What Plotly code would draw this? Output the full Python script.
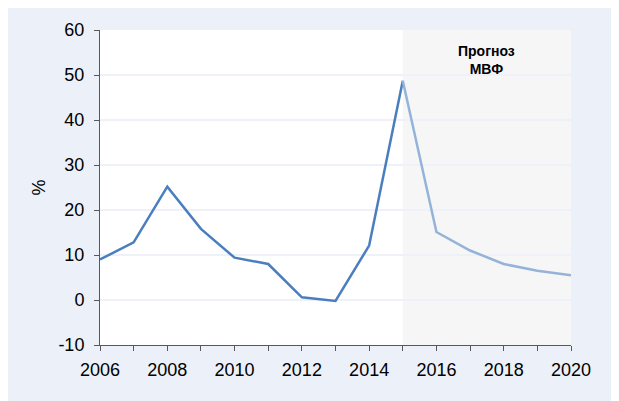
import plotly.graph_objects as go

years_hist = [2006, 2007, 2008, 2009, 2010, 2011, 2012, 2013, 2014, 2015]
values_hist = [9.0, 12.8, 25.2, 15.8, 9.4, 8.0, 0.6, -0.2, 12.1, 48.7]
years_fc = [2015, 2016, 2017, 2018, 2019, 2020]
values_fc = [48.7, 15.1, 11.0, 8.0, 6.5, 5.5]
x_ticks = [2006, 2008, 2010, 2012, 2014, 2016, 2018, 2020]
y_ticks = [-10, 0, 10, 20, 30, 40, 50, 60]
y_tick_text = ["-10", "0", "10", "20", "30", "40", "50", "60"]
forecast_label = "Прогноз<br>МВФ"
y_title = "%"

W, H = 611, 393
L, R, T, B = 92, 48, 19, 56

fig = go.Figure()
fig.add_trace(go.Scatter(x=years_hist, y=values_hist, mode="lines",
                         line=dict(color="#4A7EBF", width=2.5), hoverinfo="skip"))
fig.add_trace(go.Scatter(x=years_fc, y=values_fc, mode="lines",
                         line=dict(color="#95B3D9", width=2.5), hoverinfo="skip"))

# forecast shading
fig.add_shape(type="rect", xref="x", yref="y", x0=years_fc[0], x1=years_fc[-1],
              y0=y_ticks[0], y1=y_ticks[-1], fillcolor="#F6F6F6", line=dict(width=0),
              layer="below")

fig.add_annotation(x=(years_fc[0] + years_fc[-1]) / 2, y=53.3, xref="x", yref="y",
                   text="<b>" + forecast_label + "</b>", showarrow=False,
                   font=dict(family="Liberation Sans, Arial", size=14, color="#000000"),
                   yanchor="middle")

axis_font = dict(family="Liberation Sans, Arial", size=18, color="#000000")
fig.update_xaxes(range=[x_ticks[0], x_ticks[-1]], tickvals=x_ticks, ticks="outside",
                 ticklen=5, tickcolor="#595959", showline=True, linecolor="#595959",
                 linewidth=1, showgrid=False, zeroline=False, tickfont=axis_font,
                 ticklabelstandoff=3,
                 minor=dict(dtick=1, ticks="outside", ticklen=5, tickcolor="#595959"))
fig.update_yaxes(range=[y_ticks[0], y_ticks[-1]], tickvals=y_ticks, ticktext=y_tick_text,
                 ticks="outside",
                 ticklen=5, tickcolor="#595959", showline=True, linecolor="#595959",
                 linewidth=1, showgrid=True, gridcolor="#EEF2F8", gridwidth=1.5,
                 zeroline=False, tickfont=axis_font, ticklabelstandoff=6,
                 title=dict(text=y_title, font=axis_font, standoff=8))

fig.update_layout(width=W, height=H, margin=dict(l=L, r=R, t=T, b=B),
                  paper_bgcolor="#ECF0F8", plot_bgcolor="#FFFFFF", showlegend=False)
fig.write_html("out.html")
